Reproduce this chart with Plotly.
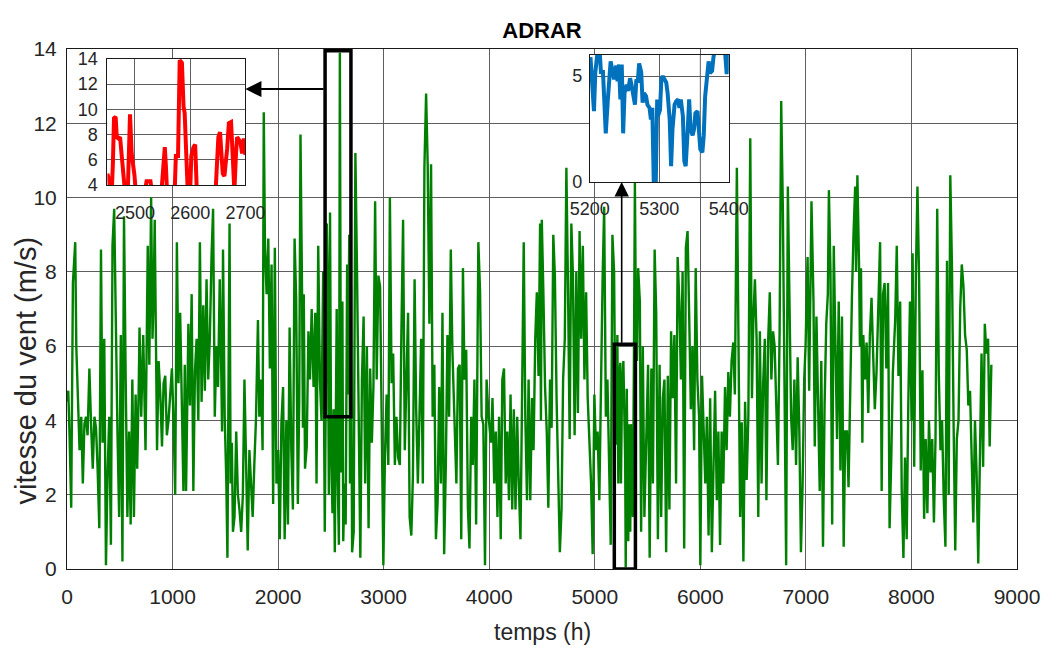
import plotly.graph_objects as go

# ---------------- data ----------------
main_points = [
    (0,4.5),(12,4.8),(25,3.5),(40,1.65),(56,7.7),(78,8.8),(88,6.0),(104,4.8),(119,3.2),(135,4.1),
    (150,2.3),(165,3.9),(180,4.1),(195,3.6),(212,5.4),(228,3.9),(244,2.7),(260,4.1),(275,3.8),(290,2.7),
    (306,1.1),(322,8.6),(337,3.4),(353,6.2),(369,0.1),(384,2.5),(400,4.1),(416,0.65),(431,8.7),(447,9.7),
    (463,6.0),(478,3.7),(494,1.4),(510,6.3),(525,0.2),(540,9.5),(556,5.1),(572,1.4),(588,3.7),(603,1.2),
    (619,5.1),(634,1.4),(650,4.7),(665,2.7),(680,5.0),(687,6.5),(703,4.1),(722,6.3),(744,3.2),(765,8.7),
    (780,5.5),(797,10.0),(810,6.2),(822,7.5),(831,9.4),(842,5.0),(853,3.2),(868,5.6),(884,4.7),(900,3.3),
    (915,5.0),(931,5.2),(946,3.6),(962,4.0),(978,4.6),(994,5.4),(1010,3.9),(1025,2.0),(1041,8.8),(1056,5.0),
    (1072,6.9),(1088,4.6),(1103,2.1),(1116,5.5),(1128,2.1),(1150,6.6),(1165,4.4),(1181,7.4),(1197,2.1),(1212,5.3),
    (1228,6.2),(1244,4.0),(1259,8.8),(1275,4.5),(1291,7.1),(1306,4.8),(1322,7.8),(1338,5.1),(1353,6.2),(1369,8.4),
    (1384,9.7),(1400,4.1),(1416,6.0),(1431,4.9),(1447,7.8),(1462,5.2),(1469,3.7),(1478,8.6),(1494,4.1),(1509,2.4),
    (1520,0.3),(1530,5.0),(1540,9.3),(1550,2.3),(1562,3.4),(1572,1.0),(1587,1.4),(1603,3.7),(1619,2.0),(1634,1.6),
    (1650,1.0),(1666,2.0),(1681,5.1),(1697,2.8),(1712,0.5),(1728,3.2),(1744,2.2),(1759,1.4),(1775,2.85),(1790,4.0),
    (1809,6.7),(1822,4.1),(1838,5.1),(1853,3.2),(1864,12.3),(1876,8.6),(1891,7.4),(1907,8.9),(1922,5.4),(1938,8.2),
    (1953,1.75),(1969,8.65),(1984,2.3),(2000,3.2),(2016,0.8),(2031,3.9),(2047,4.9),(2062,0.8),(2078,4.0),(2093,1.2),
    (2109,6.5),(2125,3.2),(2140,1.6),(2156,8.9),(2171,7.3),(2187,1.75),(2200,4.5),(2212,11.7),(2227,7.4),(2235,3.8),
    (2243,7.4),(2255,2.7),(2271,3.3),(2287,6.4),(2302,5.1),(2318,7.0),(2336,4.9),(2352,6.9),(2364,2.3),(2380,8.7),
    (2396,5.1),(2411,4.0),(2427,8.0),(2442,1.0),(2452,4.9),(2461,9.3),(2470,7.7),(2481,2.0),(2492,9.6),(2502,3.2),
    (2515,1.5),(2525,4.3),(2537,0.45),(2555,7.0),(2565,2.4),(2576,0.65),(2585,13.9),(2596,2.6),(2609,7.2),(2617,0.75),
    (2630,2.3),(2640,1.2),(2654,8.2),(2661,4.7),(2674,9.0),(2681,2.3),(2690,7.6),(2701,0.45),(2716,1.0),(2732,11.2),
    (2748,7.9),(2763,4.1),(2779,0.3),(2794,5.1),(2810,6.8),(2825,2.3),(2841,6.0),(2857,1.1),(2872,5.4),(2888,3.4),
    (2903,4.9),(2919,9.9),(2934,5.1),(2950,7.9),(2966,7.6),(2981,4.1),(2997,0.1),(3012,3.0),(3028,4.7),(3044,2.8),
    (3059,10.0),(3075,5.0),(3090,5.8),(3106,2.8),(3121,4.1),(3137,3.0),(3153,2.8),(3168,6.4),(3184,9.4),(3200,3.2),
    (3215,5.1),(3231,6.9),(3246,1.4),(3262,0.9),(3277,2.5),(3293,7.8),(3308,4.3),(3324,2.3),(3339,4.1),(3355,6.2),
    (3371,2.3),(3386,10.8),(3402,12.8),(3417,10.9),(3433,6.6),(3449,10.9),(3464,4.1),(3480,5.5),(3495,0.8),(3511,1.8),
    (3526,4.9),(3542,2.3),(3557,6.9),(3573,0.4),(3589,2.8),(3604,6.3),(3620,4.1),(3636,8.6),(3651,5.9),(3673,4.1),
    (3689,2.3),(3704,5.4),(3720,5.5),(3735,0.8),(3751,8.1),(3766,5.1),(3782,5.9),(3798,1.65),(3813,0.55),(3829,4.1),
    (3844,2.8),(3860,5.1),(3876,1.2),(3897,8.8),(3913,7.5),(3928,4.1),(3944,3.9),(3960,0.1),(3975,5.1),(3994,4.1),
    (4016,3.4),(4031,4.6),(4047,2.3),(4062,3.7),(4078,1.4),(4093,4.1),(4109,0.8),(4124,5.1),(4140,5.4),(4156,2.3),
    (4171,3.7),(4187,1.85),(4202,4.7),(4218,1.6),(4233,4.3),(4249,1.6),(4265,4.1),(4280,2.3),(4296,0.8),(4311,4.6),
    (4327,8.8),(4342,4.1),(4358,1.85),(4373,5.1),(4389,1.85),(4405,4.6),(4420,3.2),(4436,6.2),(4451,7.45),(4467,5.2),
    (4482,9.3),(4490,4.0),(4498,9.4),(4513,7.45),(4529,4.9),(4545,3.7),(4560,1.65),(4576,5.1),(4591,3.8),(4607,9.0),
    (4622,7.9),(4638,4.6),(4653,2.3),(4669,0.45),(4685,1.6),(4700,5.1),(4716,6.2),(4731,10.8),(4747,7.45),(4762,3.5),
    (4778,9.3),(4793,7.9),(4809,3.6),(4825,8.0),(4840,4.2),(4856,9.1),(4871,6.2),(4887,8.7),(4902,5.1),(4918,7.45),
    (4933,4.6),(4949,3.4),(4965,2.3),(4980,0.4),(4996,4.7),(5011,3.2),(5027,3.7),(5043,1.85),(5058,5.5),(5074,7.8),
    (5089,9.75),(5105,4.1),(5120,5.1),(5136,2.7),(5151,0.65),(5167,9.0),(5183,8.0),(5195,3.8),(5205,3.35),(5214,6.3),
    (5223,2.3),(5232,5.2),(5242,5.55),(5248,2.3),(5258,4.9),(5271,5.6),(5280,4.05),(5288,2.95),(5293,0.05),(5303,4.85),
    (5317,0.75),(5327,3.9),(5336,1.0),(5343,3.9),(5350,2.5),(5361,1.4),(5371,5.7),(5380,10.4),(5390,6.5),(5400,5.6),
    (5411,8.1),(5427,7.2),(5439,1.0),(5455,6.0),(5470,1.4),(5489,4.1),(5505,5.5),(5520,0.3),(5536,5.4),(5551,2.3),
    (5567,8.6),(5582,6.9),(5598,0.8),(5614,5.5),(5629,1.4),(5645,4.6),(5660,5.1),(5676,0.45),(5692,5.2),(5707,1.6),
    (5723,6.4),(5738,4.6),(5754,6.3),(5770,2.3),(5785,8.4),(5801,7.2),(5816,5.1),(5832,8.0),(5847,0.55),(5863,8.65),
    (5879,9.1),(5894,6.9),(5910,4.3),(5925,6.0),(5941,3.2),(5956,8.1),(5972,5.1),(5988,4.1),(6000,0.1),(6016,5.2),
    (6031,3.7),(6047,2.3),(6062,4.1),(6078,0.9),(6093,4.6),(6109,0.45),(6125,2.8),(6140,4.8),(6156,1.85),(6171,3.7),
    (6187,0.65),(6202,3.7),(6218,2.3),(6234,4.9),(6249,3.2),(6265,5.3),(6280,4.1),(6296,5.6),(6312,6.1),(6327,4.7),
    (6346,10.8),(6361,5.1),(6377,1.4),(6392,3.95),(6408,0.2),(6424,4.5),(6439,2.4),(6455,4.1),(6473,11.6),(6489,4.6),
    (6502,6.7),(6517,7.8),(6533,6.2),(6549,1.4),(6564,6.4),(6580,2.3),(6595,5.0),(6611,6.2),(6626,1.85),(6642,6.1),
    (6658,7.45),(6673,5.1),(6689,6.4),(6704,6.0),(6720,4.1),(6735,2.8),(6751,6.4),(6766,12.6),(6782,9.65),(6798,4.6),
    (6813,0.1),(6829,10.3),(6844,6.9),(6860,4.1),(6875,3.2),(6891,5.1),(6907,2.8),(6922,5.7),(6938,3.7),(6953,0.45),
    (6969,2.3),(6984,5.1),(6997,6.0),(7016,8.4),(7031,4.8),(7053,9.9),(7072,7.2),(7084,3.3),(7100,6.8),(7115,4.6),
    (7131,2.1),(7146,5.6),(7162,0.6),(7177,4.4),(7193,6.6),(7208,7.4),(7218,10.2),(7233,8.0),(7249,1.2),(7264,8.7),
    (7280,5.3),(7295,3.5),(7311,7.2),(7327,2.65),(7342,6.8),(7358,0.6),(7373,3.7),(7389,3.7),(7404,2.2),(7420,5.3),
    (7436,7.3),(7451,9.0),(7467,10.3),(7475,8.0),(7488,10.6),(7504,8.1),(7512,6.0),(7522,8.1),(7535,3.4),(7544,6.3),
    (7560,5.1),(7575,6.1),(7591,4.2),(7606,6.3),(7622,7.3),(7637,5.8),(7653,4.3),(7669,5.3),(7684,6.7),(7703,8.8),
    (7718,2.1),(7731,7.4),(7746,7.7),(7762,5.4),(7778,7.7),(7793,1.1),(7809,3.0),(7824,5.3),(7846,6.7),(7861,8.7),
    (7877,5.2),(7893,7.2),(7908,2.1),(7924,0.3),(7939,3.0),(7955,0.8),(7970,4.4),(7986,7.2),(8001,4.0),(8011,8.5),
    (8026,2.75),(8042,7.95),(8057,10.3),(8073,7.7),(8088,2.65),(8104,5.35),(8120,1.35),(8135,3.5),(8151,1.5),(8166,4.0),
    (8182,2.6),(8197,3.5),(8213,1.25),(8228,3.5),(8244,9.7),(8259,5.3),(8275,3.2),(8290,4.0),(8306,1.9),(8322,0.6),
    (8337,8.3),(8353,2.0),(8368,10.6),(8384,8.1),(8399,4.0),(8415,0.5),(8430,3.5),(8446,4.0),(8462,7.0),(8477,8.2),
    (8493,7.6),(8508,6.3),(8524,5.9),(8539,4.4),(8555,4.8),(8570,2.6),(8586,1.25),(8602,4.0),(8617,2.6),(8633,0.15),
    (8648,3.5),(8664,5.8),(8679,2.75),(8695,6.6),(8710,5.8),(8726,6.2),(8741,3.3),(8757,5.5),
]

red_points = [
    (2450,4.9),(2453,4.4),(2455,3.2),(2458,3.5),(2460,5.7),(2462,9.3),(2465,9.4),(2467,7.8),(2470,7.7),(2473,7.8),
    (2476,6.3),(2479,4.5),(2481,3.0),(2485,2.0),(2487,3.5),(2489,6.3),(2491,9.6),(2494,6.5),(2497,5.7),(2499,4.8),
    (2502,3.2),(2510,1.5),(2518,3.5),(2521,4.3),(2528,4.3),(2530,3.0),(2540,0.5),(2548,3.5),(2551,6.0),(2554,7.0),
    (2556,5.5),(2558,3.5),(2565,2.4),(2572,3.6),(2574,6.3),(2578,6.3),(2581,13.9),(2585,13.7),(2588,10.2),(2590,9.7),
    (2593,6.3),(2596,3.0),(2600,3.5),(2602,6.3),(2606,7.0),(2609,7.2),(2612,3.5),(2620,0.75),(2630,2.3),(2640,1.2),
    (2646,3.5),(2649,6.5),(2651,7.8),(2654,8.2),(2657,6.0),(2659,4.9),(2662,4.7),(2665,5.8),(2667,6.9),(2670,8.9),
    (2674,9.0),(2677,6.3),(2680,3.5),(2683,6.5),(2685,7.8),(2688,7.6),(2691,7.4),(2694,6.5),(2697,7.7),(2700,6.4),
]

blue_points = [
    (5201,5.9),(5204,4.7),(5206,3.35),(5208,5.2),(5209,5.9),(5212,6.4),(5214,6.3),(5216,5.2),(5219,5.2),(5221,4.05),
    (5223,2.3),(5226,3.9),(5228,5.2),(5230,5.7),(5233,5.2),(5235,4.85),(5238,5.5),(5240,4.75),(5242,5.55),(5244,3.9),
    (5246,5.55),(5248,2.3),(5250,4.2),(5253,4.6),(5255,4.3),(5258,4.9),(5260,4.6),(5262,4.2),(5265,3.65),(5267,4.85),
    (5269,4.7),(5271,5.6),(5274,5.2),(5276,3.75),(5278,4.2),(5281,4.05),(5283,3.65),(5286,3.5),(5288,2.95),(5290,3.5),
    (5292,0.05),(5295,0.05),(5297,3.9),(5298,3.1),(5301,3.4),(5303,4.85),(5305,5.0),(5308,4.85),(5310,4.7),(5312,4.2),
    (5315,2.95),(5317,0.75),(5319,2.5),(5322,3.65),(5324,3.8),(5327,3.9),(5329,3.5),(5331,3.9),(5334,3.1),(5336,1.0),
    (5338,0.75),(5341,2.5),(5343,3.9),(5345,2.5),(5348,2.2),(5350,2.5),(5352,3.25),(5355,3.35),(5357,2.0),(5359,1.55),
    (5362,1.4),(5364,2.2),(5366,4.05),(5369,5.0),(5371,5.7),(5373,5.15),(5376,5.25),(5378,5.9),(5380,6.4),(5383,6.8),
    (5387,7.0),(5392,6.8),(5395,6.0),(5397,5.1),(5399,5.95),(5400,6.2),
]

main_x_ticks = [0, 1000, 2000, 3000, 4000, 5000, 6000, 7000, 8000, 9000]
main_y_ticks = [0, 2, 4, 6, 8, 10, 12, 14]
red_x_ticks = [2500, 2600, 2700]
red_y_ticks = [4, 6, 8, 10, 12, 14]
blue_x_ticks = [5200, 5300, 5400]
blue_y_ticks = [0, 5]

main_range_x = [0, 9000]
main_range_y = [0, 14]
red_range_x = [2450, 2700]
red_range_y = [4, 14]
blue_range_x = [5200, 5400]
blue_range_y = [0, 6]

# zoom boxes drawn on the main plot (window + arrow anchor)
box1 = dict(x0=2445, x1=2690, y0=4.1, y1=13.95)
box2 = dict(x0=5185, x1=5385, y0=0, y1=6.05)
arrow1_y = 12.92
arrow2_x = 5255

# ---------------- layout geometry ----------------
W, H = 1052, 648
ML, MR, MT, MB = 67, 21, 49, 79
red_dom_x = [0.0425, 0.1878]
red_dom_y = [0.7385, 0.9808]
blue_dom_x = [0.5503, 0.6966]
blue_dom_y = [0.7442, 0.9885]

FONT = "Liberation Sans, Arial, sans-serif"
GRID = "#5e5e5e"
TICKC = "#262626"

fig = go.Figure()
fig.add_trace(go.Scatter(x=[p[0] for p in main_points], y=[p[1] for p in main_points],
                         mode="lines", line=dict(color="#008000", width=2.4),
                         xaxis="x", yaxis="y", showlegend=False, hoverinfo="skip"))
fig.add_trace(go.Scatter(x=[p[0] for p in red_points], y=[p[1] for p in red_points],
                         mode="lines", line=dict(color="#ff0000", width=4),
                         xaxis="x2", yaxis="y2", showlegend=False, hoverinfo="skip"))
fig.add_trace(go.Scatter(x=[p[0] for p in blue_points], y=[p[1] for p in blue_points],
                         mode="lines", line=dict(color="#0072BD", width=4),
                         xaxis="x3", yaxis="y3", showlegend=False, hoverinfo="skip"))

def ax(domain, rng, ticks, size, anchor, ticklen, **kw):
    return dict(domain=domain, range=rng, tickvals=ticks, anchor=anchor,
                showgrid=True, gridcolor=GRID, gridwidth=1, zeroline=False,
                showline=True, mirror=True, linecolor="#1a1a1a", linewidth=1,
                ticks="outside", ticklen=ticklen, tickcolor="rgba(0,0,0,0)",
                tickfont=dict(family=FONT, size=size, color=TICKC), **kw)

shapes = []
# opaque backgrounds of the insets (drawn in the inset subplot layer, below its grid)
shapes.append(dict(type="rect", xref="x2", yref="y2", x0=red_range_x[0], x1=red_range_x[1],
                   y0=red_range_y[0], y1=red_range_y[1], fillcolor="white", line=dict(width=0), layer="below"))
shapes.append(dict(type="rect", xref="x3", yref="y3", x0=blue_range_x[0], x1=blue_range_x[1],
                   y0=blue_range_y[0], y1=blue_range_y[1], fillcolor="white", line=dict(width=0), layer="below"))
# main 6000 h grid line showing through the blue inset
frac6000 = (6000 - main_range_x[0]) / (main_range_x[1] - main_range_x[0])
x3_at_6000 = blue_range_x[0] + (frac6000 - blue_dom_x[0]) / (blue_dom_x[1] - blue_dom_x[0]) * (blue_range_x[1] - blue_range_x[0])
shapes.append(dict(type="line", xref="x3", yref="y3", x0=x3_at_6000, x1=x3_at_6000,
                   y0=blue_range_y[0], y1=blue_range_y[1], line=dict(color=GRID, width=1), layer="below"))
# zoom windows on main plot
for b in (box1, box2):
    shapes.append(dict(type="rect", xref="x", yref="y", line=dict(color="black", width=3.5),
                       fillcolor="rgba(0,0,0,0)", layer="above", **b))

# arrow endpoints at inset edges, in main data units
red_right_x = red_dom_x[1] * main_range_x[1]
blue_bottom_y = blue_dom_y[0] * main_range_y[1]

annotations = [
    dict(x=red_right_x, y=arrow1_y, ax=box1["x0"], ay=arrow1_y, xref="x", yref="y", axref="x", ayref="y",
         text="", showarrow=True, arrowhead=2, arrowsize=1.6, arrowwidth=2, arrowcolor="black", standoff=0),
    dict(x=arrow2_x, y=blue_bottom_y, ax=arrow2_x, ay=box2["y1"], xref="x", yref="y", axref="x", ayref="y",
         text="", showarrow=True, arrowhead=2, arrowsize=1.8, arrowwidth=1.6, arrowcolor="black", standoff=0),
    dict(text="temps (h)", x=0.5, y=-0.1212, xref="paper", yref="paper", showarrow=False,
         xanchor="center", yanchor="middle", font=dict(family=FONT, size=23, color=TICKC)),
    dict(text="vitesse du vent (m/s)", x=-0.0436, y=0.381, xref="paper", yref="paper", showarrow=False,
         textangle=-90, xanchor="center", yanchor="middle", font=dict(family=FONT, size=29, color=TICKC)),
]

fig.update_layout(
    width=W, height=H, autosize=False,
    margin=dict(l=ML, r=MR, t=MT, b=MB),
    paper_bgcolor="white", plot_bgcolor="white",
    title=dict(text="<b>ADRAR</b>", x=0.5, xref="paper", xanchor="center",
               y=1 - 30 / H, yref="container", yanchor="middle",
               font=dict(family=FONT, size=22, color="black")),
    xaxis=ax([0, 1], main_range_x, main_x_ticks, 21, "y", 9),
    yaxis=ax([0, 1], main_range_y, main_y_ticks, 21, "x", 5),
    xaxis2=ax(red_dom_x, red_range_x, red_x_ticks, 18, "y2", 11),
    yaxis2=ax(red_dom_y, red_range_y, red_y_ticks, 18, "x2", 5),
    xaxis3=ax(blue_dom_x, blue_range_x, blue_x_ticks, 18, "y3", 10),
    yaxis3=ax(blue_dom_y, blue_range_y, blue_y_ticks, 18, "x3", 3),
    shapes=shapes, annotations=annotations, hovermode=False,
)

fig.write_html("out.html", config={"displayModeBar": False},
               post_script="document.body.style.margin='0px';")
